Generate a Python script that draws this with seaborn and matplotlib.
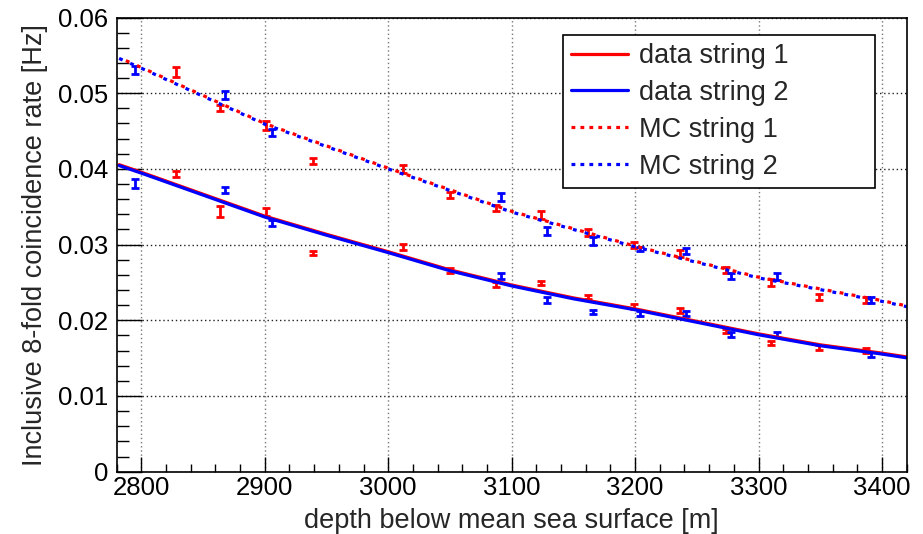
import numpy as np
import pandas as pd
import matplotlib
matplotlib.use('Agg')
import matplotlib.pyplot as plt
import seaborn as sns
from matplotlib.ticker import MultipleLocator, FuncFormatter
from matplotlib.lines import Line2D

# fitted curves
data_depth = [2782, 2800, 2850, 2900, 2950, 3000, 3050, 3100, 3150, 3200, 3250, 3300, 3350, 3400, 3420]
data_s1 = [0.04056, 0.03956, 0.03666, 0.03376, 0.03136, 0.02906, 0.02666, 0.02466, 0.02296,
           0.02151, 0.01986, 0.01821, 0.01676, 0.01566, 0.01516]
data_s2 = [0.04044, 0.03944, 0.03654, 0.03364, 0.03124, 0.02894, 0.02654, 0.02454, 0.02284,
           0.02139, 0.01974, 0.01809, 0.01664, 0.01554, 0.01504]

mc_depth = [2782, 2800, 2900, 3000, 3100, 3200, 3300, 3400, 3420]
mc_s1 = [0.0547, 0.0534, 0.0460, 0.0401, 0.0344, 0.0298, 0.0257, 0.0226, 0.0219]
mc_s2 = [0.0546, 0.0533, 0.0459, 0.0400, 0.0343, 0.0297, 0.0256, 0.0225, 0.0218]

# measured points, string 1 (red)
depth1 = [2828, 2864, 2901, 2939, 3012, 3050, 3087, 3124, 3162, 3199, 3236, 3274, 3310, 3349, 3387]
rate1 = [0.0393, 0.0344, 0.0343, 0.0289, 0.0297, 0.0266, 0.0247, 0.0249, 0.0231, 0.0218,
         0.0213, 0.0186, 0.0170, 0.0164, 0.0160]
err1 = [0.0004, 0.0007, 0.0005, 0.0003, 0.0004, 0.0003, 0.0003, 0.0003, 0.0003, 0.0003,
        0.0003, 0.0003, 0.0003, 0.0003, 0.0003]
mcrate1 = [0.0528, 0.0481, 0.0457, 0.0410, 0.0400, 0.0366, 0.0348, 0.0339, 0.0316, 0.0300,
           0.0288, 0.0266, 0.0250, 0.0231, 0.0227]
mcerr1 = [0.0006, 0.0004, 0.0006, 0.0004, 0.0005, 0.0004, 0.0004, 0.0005, 0.0004, 0.0004,
          0.0005, 0.0004, 0.0005, 0.0004, 0.0004]

# measured points, string 2 (blue)
depth2 = [2795, 2868, 2906, 3091, 3129, 3166, 3204, 3241, 3278, 3315, 3391]
rate2 = [0.0381, 0.0372, 0.0329, 0.0259, 0.0227, 0.0211, 0.0209, 0.0209, 0.0181, 0.0181, 0.0155]
err2 = [0.0006, 0.0004, 0.0004, 0.0004, 0.0004, 0.0003, 0.0003, 0.0003, 0.0003, 0.0003, 0.0003]
mcrate2 = [0.0531, 0.0498, 0.0448, 0.0363, 0.0318, 0.0305, 0.0294, 0.0291, 0.0259, 0.0258, 0.0227]
mcerr2 = [0.0005, 0.0005, 0.0005, 0.0005, 0.0005, 0.0005, 0.0003, 0.0004, 0.0004, 0.0005, 0.0004]

sns.set_style('ticks')
plt.rcParams['font.family'] = ['Liberation Sans', 'DejaVu Sans']

data_df = pd.DataFrame({'depth': data_depth, 'data1': data_s1, 'data2': data_s2})
mc_df = pd.DataFrame({'depth': mc_depth, 'mc1': mc_s1, 'mc2': mc_s2})

fig = plt.figure(figsize=(9.23, 5.34), dpi=100)
ax = fig.add_axes([0.1264, 0.1167, 0.8559, 0.8505])

red = '#ff0000'
blue = '#0000ff'

# error bars
eb = dict(fmt='none', elinewidth=2.0, capsize=2.6, capthick=2.0)
ax.errorbar(depth1, rate1, yerr=err1, ecolor=red, **eb)
ax.errorbar(depth1, mcrate1, yerr=mcerr1, ecolor=red, **eb)
ax.errorbar(depth2, rate2, yerr=err2, ecolor=blue, **eb)
ax.errorbar(depth2, mcrate2, yerr=mcerr2, ecolor=blue, **eb)

# curves
sns.lineplot(data=data_df, x='depth', y='data1', color=red, lw=2.3, ax=ax)
sns.lineplot(data=data_df, x='depth', y='data2', color=blue, lw=2.3, ax=ax)
sns.lineplot(data=mc_df, x='depth', y='mc1', color=red, lw=2.3, ax=ax)
sns.lineplot(data=mc_df, x='depth', y='mc2', color=blue, lw=2.3, ax=ax)
ax.lines[-2].set_linestyle((1.5, (1.2, 2.6)))
ax.lines[-1].set_linestyle((0, (1.2, 2.6)))

ax.set_xlim(2780, 3420)
ax.set_ylim(0, 0.06)
ax.xaxis.set_major_locator(MultipleLocator(100))
ax.xaxis.set_minor_locator(MultipleLocator(20))
ax.yaxis.set_major_locator(MultipleLocator(0.01))
ax.yaxis.set_minor_locator(MultipleLocator(0.002))
ax.yaxis.set_major_formatter(FuncFormatter(lambda v, p: '0' if abs(v) < 1e-9 else f'{v:.2f}'))

ax.tick_params(axis='both', which='both', direction='in', top=False, right=False,
               width=1.0, colors='black', labelsize=18.5)
ax.tick_params(axis='x', which='major', length=11, pad=3)
ax.tick_params(axis='x', which='minor', length=5.5)
ax.tick_params(axis='y', which='major', length=18, pad=6)
ax.tick_params(axis='y', which='minor', length=8.5)

ax.xaxis.grid(True, color='#777777', linestyle=(0, (1, 2)), lw=1.0)
ax.yaxis.grid(True, color='#222222', linestyle=(0, (1, 2)), lw=1.0)
for s in ax.spines.values():
    s.set_color('black')
    s.set_linewidth(1.2)

ax.set_xlabel('depth below mean sea surface [m]', fontsize=19.5)
ax.set_ylabel('Inclusive 8-fold coincidence rate [Hz]', fontsize=19.5)
ax.xaxis.set_label_coords(0.5, -0.08)
ax.yaxis.set_label_coords(-0.087, 0.5)

handles = [Line2D([], [], color=red, lw=2.3),
           Line2D([], [], color=blue, lw=2.3),
           Line2D([], [], color=red, lw=2.3, linestyle=(0, (1.2, 1.6))),
           Line2D([], [], color=blue, lw=2.3, linestyle=(0, (1.2, 1.6)))]
labels = ['data string 1', 'data string 2', 'MC string 1', 'MC string 2']
leg = ax.legend(handles, labels, loc='upper left', bbox_to_anchor=(0.5653, 0, 0.3946, 0.9615),
                mode='expand', fontsize=19.5, frameon=True, fancybox=False, framealpha=1,
                edgecolor='black', handlelength=2.1, handletextpad=0.4,
                labelspacing=0.4, borderpad=0.3, borderaxespad=0)
leg.get_frame().set_linewidth(1.2)

fig.savefig('out.png', dpi=100)
